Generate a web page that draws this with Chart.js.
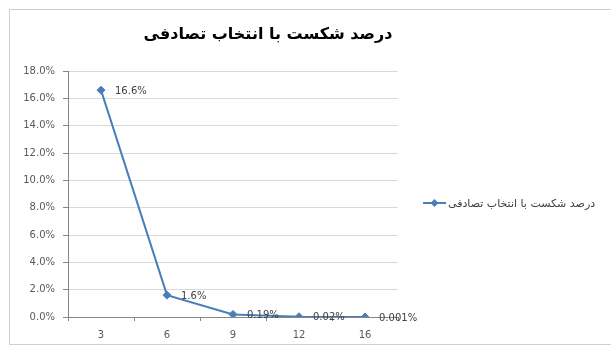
<!DOCTYPE html>
<html>
<head>
<meta charset="utf-8">
<script src="https://cdn.jsdelivr.net/npm/chart.js@4"></script>
<style>
    html, body { margin: 0; padding: 0; background: #fff; }
    #wrap { position: relative; width: 611px; height: 349px; }
    #frame {
        position: absolute; left: 9px; top: 9px; width: 610px; height: 336px;
        border: 1px solid #d0d0d0; box-sizing: border-box;
    }
    canvas { position: absolute; left: 0; top: 0; }
</style>
</head>
<body>
<div id="wrap">
    <div id="frame"></div>
    <canvas id="chart" width="611" height="349"></canvas>
</div>
<script>
// ---------------------------------------------
// DATA
// ---------------------------------------------
const chartTitle = "درصد شکست با انتخاب تصادفی";
const seriesName = "درصد شکست با انتخاب تصادفی";
const categories = ["3", "6", "9", "12", "16"];
const failRate = [0.166, 0.016, 0.0019, 0.0002, 0.00001];
const pointLabels = ["16.6%", "1.6%", "0.19%", "0.02%", "0.001%"];

const lineBlue = "#4A7EBB";
const textGray = "#595959";
const smallFont = "'DejaVu Sans', sans-serif";

// title, data labels and legend drawn by hand (Excel look)
const excelExtras = {
    id: "excelExtras",
    afterDatasetsDraw(chart) {
        const ctx = chart.ctx;
        const meta = chart.getDatasetMeta(0);
        ctx.save();
        ctx.font = "10px " + smallFont;
        ctx.fillStyle = "#404040";
        ctx.textBaseline = "middle";
        ctx.textAlign = "left";
        meta.data.forEach((pt, i) => {
            ctx.fillText(pointLabels[i], pt.x + 14, pt.y + 1);
        });
        ctx.restore();
    },
    afterDraw(chart) {
        const ctx = chart.ctx;
        ctx.save();
        // title
        ctx.font = "bold 16px 'DejaVu Sans', sans-serif";
        ctx.fillStyle = "#000";
        ctx.textAlign = "center";
        ctx.textBaseline = "middle";
        ctx.fillText(chartTitle, 268, 35);

        // legend
        const ly = 203;
        ctx.strokeStyle = lineBlue;
        ctx.lineWidth = 2;
        ctx.beginPath();
        ctx.moveTo(423, ly);
        ctx.lineTo(446, ly);
        ctx.stroke();
        ctx.fillStyle = lineBlue;
        ctx.beginPath();
        ctx.moveTo(434.5, ly - 4);
        ctx.lineTo(438.5, ly);
        ctx.lineTo(434.5, ly + 4);
        ctx.lineTo(430.5, ly);
        ctx.closePath();
        ctx.fill();
        ctx.font = "11px 'DejaVu Sans', sans-serif";
        ctx.fillStyle = "#404040";
        ctx.textAlign = "left";
        ctx.fillText(seriesName, 448, ly + 1);
        ctx.restore();
    }
};

new Chart(document.getElementById("chart").getContext("2d"), {
    type: "line",
    data: {
        labels: categories,
        datasets: [{
            label: seriesName,
            data: failRate,
            borderColor: lineBlue,
            backgroundColor: lineBlue,
            borderWidth: 2,
            tension: 0,
            pointStyle: "rectRot",
            pointRadius: 4,
            pointBorderWidth: 1
        }]
    },
    options: {
        responsive: false,
        animation: false,
        layout: { padding: { left: 9, top: 71, right: 213, bottom: 6 } },
        plugins: {
            legend: { display: false },
            title: { display: false },
            tooltip: { enabled: false }
        },
        scales: {
            x: {
                offset: true,
                grid: {
                    offset: true,
                    drawOnChartArea: false,
                    drawTicks: true,
                    tickLength: 4,
                    color: "#868686"
                },
                border: { color: "#868686" },
                ticks: {
                    color: textGray,
                    font: { size: 10, family: smallFont },
                    padding: 8,
                    maxRotation: 0
                },
                afterFit(scale) { scale.height = 26; }
            },
            y: {
                min: 0,
                max: 0.18,
                ticks: {
                    stepSize: 0.02,
                    color: textGray,
                    font: { size: 10, family: smallFont },
                    padding: 8,
                    callback: v => (Math.round(v * 1000) / 10).toFixed(1) + "%"
                },
                grid: {
                    color: "#d9d9d9",
                    tickLength: 5,
                    tickColor: "#868686"
                },
                border: { color: "#868686" },
                afterFit(scale) { scale.width = 59; }
            }
        }
    },
    plugins: [excelExtras]
});
</script>
</body>
</html>
